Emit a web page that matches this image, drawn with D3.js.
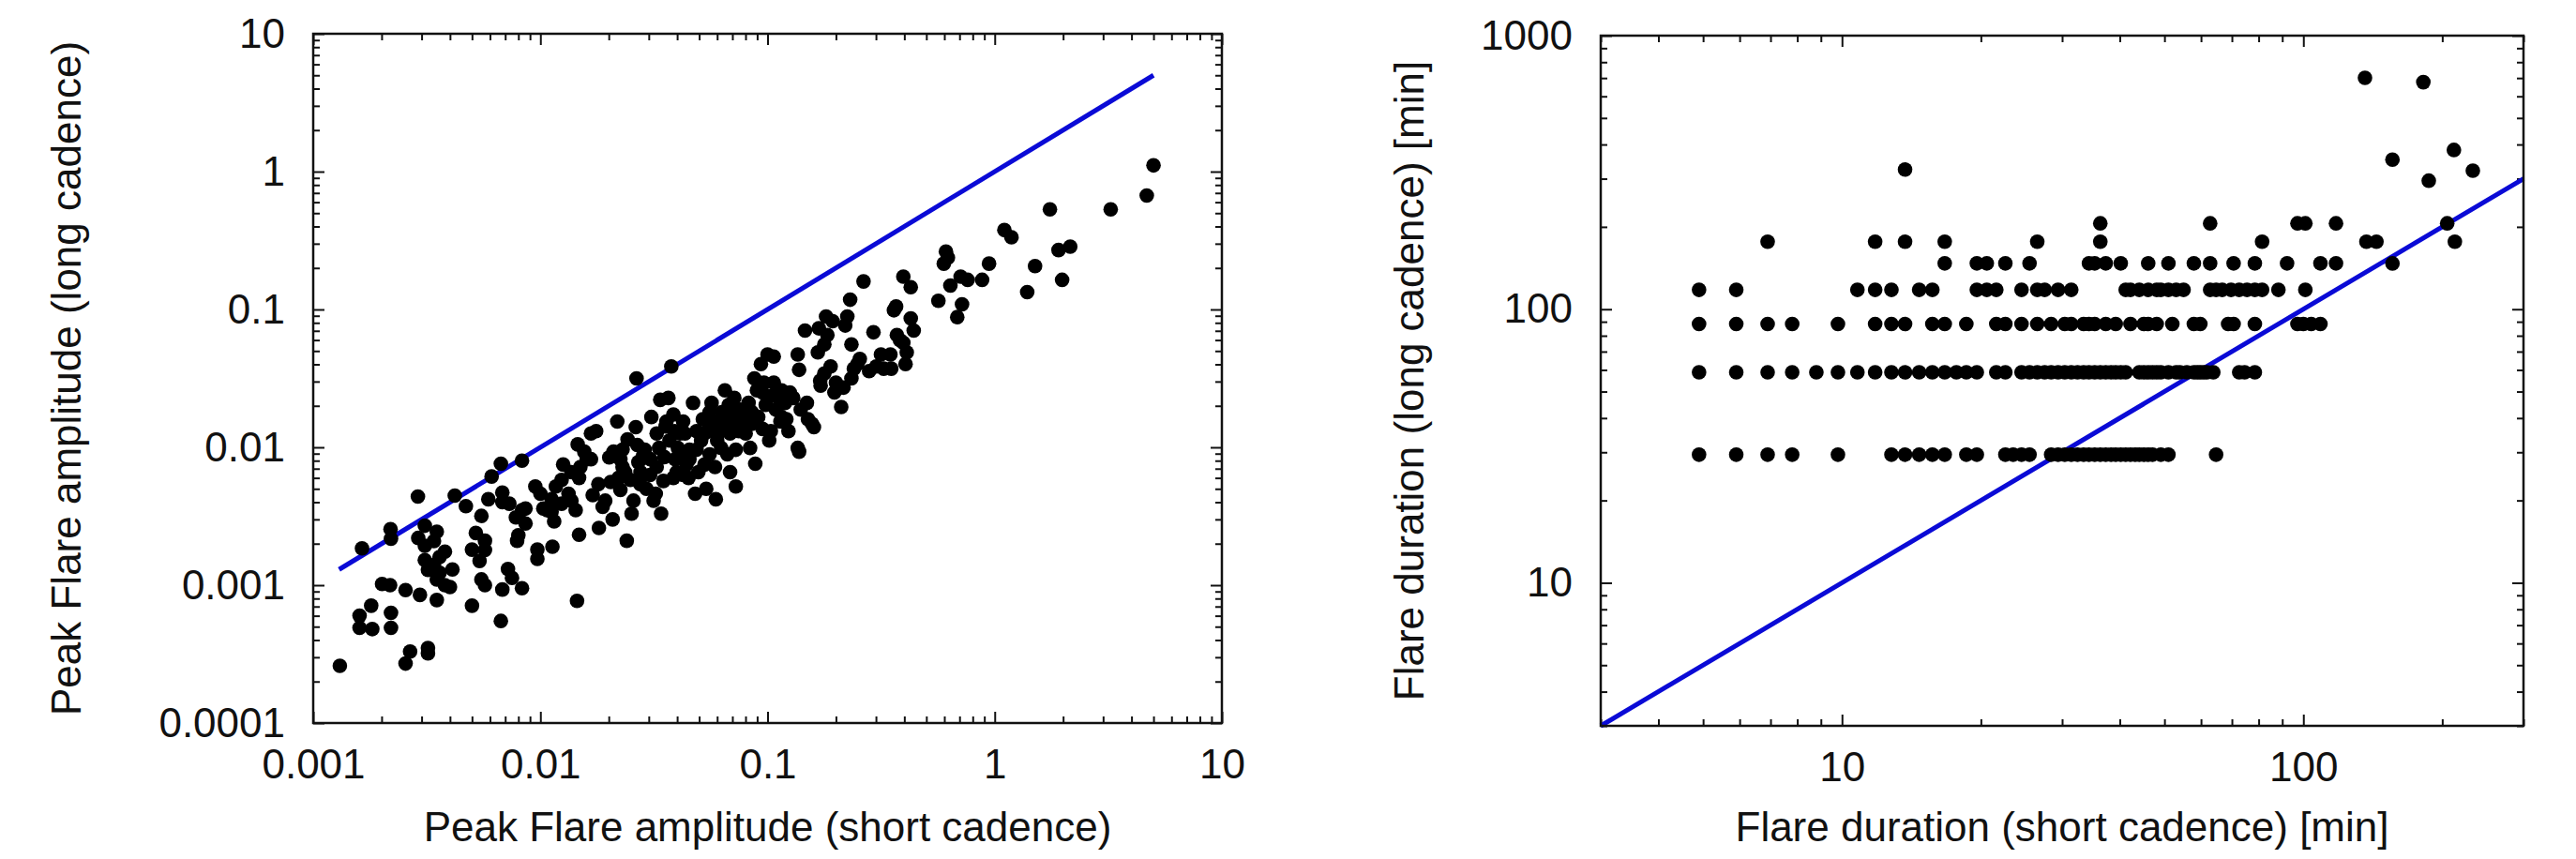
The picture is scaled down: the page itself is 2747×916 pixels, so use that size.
<!DOCTYPE html>
<html>
<head>
<meta charset="utf-8">
<script src="https://cdnjs.cloudflare.com/ajax/libs/d3/7.8.5/d3.min.js"></script>
<style>
  body { margin: 0; background: #fff; }
  text { font-family: "Liberation Sans", Arial, sans-serif; fill: #111; }
</style>
</head>
<body>
<svg id="chart"></svg>
<script>
//! DATA — left panel: peak amplitude [short cadence, long cadence]
const ampPoints = [
  [0.00131,0.00026],[0.00164,0.00185],[0.0016,0.0006],[0.0016,0.00049],[0.00182,0.00048],[0.0018,0.00071],
  [0.00201,0.00102],[0.00218,0.001],[0.00219,0.00255],[0.0022,0.00217],[0.0022,0.00063],[0.0022,0.00049],
  [0.00255,0.00092],[0.00255,0.00027],[0.00267,0.00033],[0.00289,0.00439],[0.00295,0.00085],[0.0031,0.0027],
  [0.0031,0.00193],[0.0031,0.00152],[0.0032,0.00129],[0.0032,0.00035],[0.0032,0.00032],[0.0034,0.00209],
  [0.0034,0.0014],[0.0035,0.00078],[0.0035,0.00244],[0.0036,0.00123],[0.0038,0.00175],[0.0038,0.001],
  [0.004,0.00097],[0.0042,0.00446],[0.0047,0.00374],[0.005,0.00071],[0.005,0.00181],[0.0052,0.00239],
  [0.0055,0.00318],[0.0054,0.0015],[0.0055,0.0011],[0.0057,0.0021],[0.0057,0.001],[0.0057,0.0018],
  [0.0061,0.00614],[0.0067,0.00055],[0.0067,0.0076],[0.0068,0.0047],[0.0068,0.004],[0.0068,0.00093],
  [0.0072,0.00131],[0.0075,0.00113],[0.0078,0.0031],[0.0079,0.0021],[0.008,0.0023],[0.0083,0.008],
  [0.0083,0.00095],[0.0083,0.0035],[0.0086,0.0036],[0.0095,0.0052],[0.0097,0.00181],[0.0097,0.00155],
  [0.01,0.0046],[0.0103,0.0036],[0.0107,0.0035],[0.0112,0.0034],[0.0113,0.0019],[0.0115,0.0029],
  [0.0117,0.0052],[0.0124,0.0039],[0.0126,0.0075],[0.0133,0.0046],[0.0137,0.0041],[0.0143,0.0035],
  [0.0145,0.00077],[0.0146,0.0105],[0.0148,0.006],[0.0148,0.00232],[0.015,0.0072],[0.0156,0.0093],
  [0.016,0.0082],[0.0167,0.0126],[0.017,0.0045],[0.0176,0.0131],[0.0181,0.0026],[0.0188,0.0037],
  [0.0193,0.0041],[0.0204,0.0056],[0.0208,0.003],[0.021,0.0093],[0.0218,0.0154],[0.0221,0.006],
  [0.0225,0.0082],[0.0225,0.0049],[0.023,0.0096],[0.0236,0.0066],[0.024,0.0021],[0.0242,0.0114],
  [0.0249,0.0058],[0.0252,0.0033],[0.0257,0.0041],[0.0263,0.014],[0.0265,0.0316],[0.0267,0.0104],
  [0.027,0.0078],[0.0275,0.0054],[0.0283,0.0087],[0.0288,0.0096],[0.0293,0.005],[0.0304,0.0063],
  [0.0308,0.0166],[0.0315,0.0041],[0.0322,0.0046],[0.0325,0.0126],[0.0333,0.0099],[0.0337,0.0221],
  [0.034,0.0033],[0.0348,0.0057],[0.0351,0.0085],[0.0359,0.0154],[0.0366,0.0228],[0.037,0.0112],
  [0.0377,0.0386],[0.0385,0.0173],[0.0385,0.006],[0.0392,0.0082],[0.0398,0.0066],[0.0403,0.0099],
  [0.0411,0.0126],[0.0418,0.0089],[0.0425,0.0063],[0.0433,0.0126],[0.044,0.0075],[0.0449,0.006],
  [0.0453,0.0096],[0.047,0.021],[0.048,0.0046],[0.0487,0.0131],[0.0496,0.0066],[0.051,0.0112],
  [0.0519,0.016],[0.0528,0.0075],[0.0537,0.005],[0.0544,0.0154],[0.0556,0.018],[0.0567,0.021],
  [0.0576,0.0131],[0.0587,0.0072],[0.0592,0.0042],[0.06,0.0112],[0.0612,0.0154],[0.0625,0.0099],
  [0.063,0.018],[0.0649,0.0259],[0.0657,0.0136],[0.0665,0.0089],[0.0675,0.0203],[0.0684,0.0066],
  [0.0703,0.0166],[0.0714,0.0228],[0.0725,0.0052],[0.0735,0.0154],[0.0747,0.0131],[0.0758,0.0188],
  [0.0772,0.0148],[0.0785,0.0173],[0.0813,0.0154],[0.0825,0.021],[0.0838,0.0099],[0.0852,0.0148],
  [0.0875,0.0316],[0.0883,0.0076],[0.0898,0.0259],[0.091,0.0166],[0.0935,0.0402],[0.095,0.0136],
  [0.0964,0.0295],[0.0982,0.0203],[0.1,0.0472],[0.1017,0.0112],[0.1034,0.0131],[0.1048,0.0237],
  [0.1065,0.0455],[0.1088,0.0188],[0.1123,0.0228],[0.114,0.0154],[0.1153,0.0259],[0.1193,0.021],
  [0.121,0.016],[0.1236,0.0131],[0.1253,0.025],[0.1297,0.0228],[0.1358,0.0472],[0.1358,0.0099],
  [0.1377,0.0093],[0.1377,0.0365],[0.14,0.0188],[0.1462,0.0703],[0.149,0.021],[0.1506,0.016],
  [0.157,0.0148],[0.16,0.014],[0.1665,0.0488],[0.1682,0.073],[0.1705,0.0304],[0.1713,0.028],
  [0.1778,0.0557],[0.1778,0.0343],[0.181,0.0889],[0.1834,0.0652],[0.1895,0.0386],[0.1934,0.0822],
  [0.197,0.025],[0.2,0.0295],[0.207,0.0271],[0.211,0.0196],[0.216,0.0271],[0.2198,0.0765],
  [0.2245,0.0889],[0.231,0.1177],[0.234,0.0316],[0.234,0.0557],[0.24,0.0372],[0.2486,0.0402],
  [0.2548,0.0437],[0.2645,0.1597],[0.28,0.0357],[0.2926,0.0683],[0.301,0.0386],[0.3156,0.0472],
  [0.3245,0.0372],[0.3474,0.0472],[0.3503,0.0372],[0.36,0.0987],[0.368,0.105],[0.371,0.0652],
  [0.383,0.0599],[0.396,0.1729],[0.396,0.0573],[0.405,0.0402],[0.41,0.0488],[0.427,0.1452],
  [0.427,0.0862],[0.44,0.0703],[0.565,0.1156],[0.597,0.215],[0.61,0.2628],[0.622,0.2375],
  [0.638,0.149],[0.684,0.088],[0.708,0.1729],[0.718,0.109],[0.76,0.164],[0.88,0.164],
  [0.944,0.215],[1.103,0.3767],[1.185,0.334],[1.39,0.1335],[1.505,0.2063],[1.75,0.532],
  [1.91,0.2698],[1.98,0.164],[2.15,0.2855],[3.24,0.532],[4.67,0.67],[5.0,1.11],
  [0.0201,0.00845],[0.023,0.0072],[0.0276,0.0066],[0.0305,0.0082],[0.0325,0.0072],[0.0356,0.0142],
  [0.039,0.0131],[0.0425,0.0154],[0.0453,0.0082],[0.0487,0.0096],[0.0528,0.0126],[0.0556,0.0089],
  [0.0607,0.0126],[0.0657,0.0166],[0.0684,0.0126],[0.0725,0.0096],[0.0801,0.0126],[0.0852,0.018],
  [0.095,0.025],[0.1065,0.0295],[0.1153,0.0166],[0.0167,0.0082],[0.018,0.0054],[0.0137,0.0066],
  [0.0124,0.0058],[0.0112,0.0042],[0.0086,0.0028],[0.0073,0.0039],[0.0059,0.0042],[0.0041,0.0013],
  [0.0036,0.0016],[0.0029,0.0022],[0.0035,0.0011]
];
const ampLine = [0.0013, 5];          // y = x reference line, from..to
const ampXTicks = [0.001, 0.01, 0.1, 1, 10];
const ampXLabels = ['0.001', '0.01', '0.1', '1', '10'];
const ampYTicks = [0.0001, 0.001, 0.01, 0.1, 1, 10];
const ampYLabels = ['0.0001', '0.001', '0.01', '0.1', '1', '10'];

//! DATA — right panel: flare duration [min]; long cadence values come in steps
const durLevels = [29.4, 58.8, 88.3, 117.7, 147.1, 176.6, 206.0];
const durRows = [
  [4.9,5.9,6.9,7.8,9.8,12.8,13.7,14.7,15.7,16.7,18.6,19.6,22.6,23.5,24.5,25.5,28.4,29.4,30.4,31.4,32.4,
   33.4,34.3,35.3,36.3,37.3,38.3,39.2,40.2,41.2,42.2,43.2,44.1,45.1,46.1,47.1,49.1,51.0,64.7],
  [4.9,5.9,6.9,7.8,8.8,9.8,10.8,11.8,12.8,13.7,14.7,15.7,16.7,17.7,18.6,19.6,21.6,22.6,24.5,25.5,26.5,
   27.5,28.4,29.4,30.4,31.4,32.4,33.4,34.3,35.3,36.3,37.3,38.3,39.2,40.2,41.2,44.1,45.1,46.1,47.1,48.1,
   49.1,51.0,53.0,54.0,55.9,57.9,58.9,59.8,60.8,61.8,63.8,72.6,74.6,78.5],
  [4.9,5.9,6.9,7.8,9.8,11.8,12.8,13.7,15.7,16.7,18.6,21.6,22.6,24.5,26.5,28.4,30.4,31.4,33.4,34.3,35.3,
   37.3,39.2,42.2,45.1,46.1,48.1,52.0,57.9,59.8,68.7,70.6,78.5,97.1,100.0,104.0,108.9],
  [4.9,5.9,10.8,11.8,12.8,14.7,15.7,19.6,20.6,21.6,24.5,26.5,27.5,29.4,31.4,41.2,42.2,44.1,46.1,48.1,
   49.1,51.0,53.0,55.0,62.8,64.7,66.7,69.7,72.6,75.5,78.5,81.4,88.3,101.0],
  [16.7,19.6,20.6,22.6,25.5,34.3,35.3,37.3,40.2,46.1,51.0,57.9,62.8,70.6,78.5,92.2,108.9,117.7],
  [6.9,11.8,13.7,16.7,26.5,36.3,81.4,137,144,213],
  [36.3,62.8,97.1,101.0,117.7,205]
];
const durOutliers = [[13.7,324],[136,701],[182,676],[156,352],[212,382],[187,295],[233,321],[156,147]];
const durLine = [3, 300];
const durXTicks = [10, 100];
const durXLabels = ['10', '100'];
const durYTicks = [10, 100, 1000];
const durYLabels = ['10', '100', '1000'];

//! CONSTS
const W = 2747, H = 916;
const fontSize = 44;
const majorLen = 12, minorLen = 7;
const dotR = 7.8;
const lineBlue = '#0a0ad6';

const svg = d3.select('#chart').attr('width', W).attr('height', H);
svg.append('rect').attr('width', W).attr('height', H).attr('fill', '#fff');

//! PANEL
function drawPanel(p) {
  const w = p.x1 - p.x0, h = p.y1 - p.y0;
  const x = d3.scaleLog().domain(p.xDomain).range([0, w]);
  const y = d3.scaleLog().domain(p.yDomain).range([h, 0]);
  const g = svg.append('g').attr('transform', `translate(${p.x0},${p.y0})`);

  const isMajor = (majors) => (v) => majors.some(m => Math.abs(v - m) / m < 1e-6);
  const xMinor = x.ticks().filter(v => !isMajor(p.xTicks)(v));
  const yMinor = y.ticks().filter(v => !isMajor(p.yTicks)(v));

  const axes = [
    [d3.axisBottom, x, `translate(0,${h})`, p.xTicks, p.xLabels],
    [d3.axisTop, x, 'translate(0,0)', p.xTicks, null],
    [d3.axisLeft, y, 'translate(0,0)', p.yTicks, p.yLabels],
    [d3.axisRight, y, `translate(${w},0)`, p.yTicks, null]
  ];
  axes.forEach(([mk, sc, tr, majors, labels]) => {
    const minors = sc === x ? xMinor : yMinor;
    g.append('g').attr('transform', tr).attr('color', '#111')
      .call(mk(sc).tickValues(minors).tickFormat('').tickSizeInner(-minorLen).tickSizeOuter(0))
      .call(a => a.select('.domain').remove());
    const ga = g.append('g').attr('transform', tr).attr('color', '#111')
      .call(mk(sc).tickValues(majors)
        .tickFormat((d, i) => labels ? labels[i] : '')
        .tickSizeInner(-majorLen).tickSizeOuter(0)
        .tickPadding(sc === x ? 28 : 30))
      .call(a => a.select('.domain').remove());
    ga.selectAll('text').attr('font-size', fontSize)
      .attr('font-family', '"Liberation Sans", Arial, sans-serif').attr('fill', '#111');
  });
  g.selectAll('.tick line').attr('stroke-width', 2);

  // reference line y = x
  g.append('line')
    .attr('x1', x(p.line[0])).attr('y1', y(p.line[0]))
    .attr('x2', x(p.line[1])).attr('y2', y(p.line[1]))
    .attr('stroke', lineBlue).attr('stroke-width', 5);

  // dots
  g.append('g').selectAll('circle')
    .data(p.points)
    .enter()
    .append('circle')
    .attr('cx', d => x(d[0]))
    .attr('cy', d => y(d[1]))
    .attr('r', dotR)
    .attr('fill', '#000');

  // frame
  g.append('rect').attr('width', w).attr('height', h)
    .attr('fill', 'none').attr('stroke', '#111').attr('stroke-width', 2.5);

  // titles
  svg.append('text')
    .attr('x', (p.x0 + p.x1) / 2).attr('y', 897)
    .attr('text-anchor', 'middle').attr('font-size', fontSize)
    .text(p.xTitle);
  svg.append('text')
    .attr('transform', `translate(${p.yTitleX},${(p.y0 + p.y1) / 2}) rotate(-90)`)
    .attr('text-anchor', 'middle').attr('font-size', fontSize)
    .text(p.yTitle);
}

drawPanel({
  x0: 334, x1: 1303, y0: 36, y1: 771,
  xDomain: [0.001, 10], yDomain: [0.0001, 10],
  xTicks: ampXTicks, xLabels: ampXLabels, yTicks: ampYTicks, yLabels: ampYLabels,
  xTitle: 'Peak Flare amplitude (short cadence)',
  yTitle: 'Peak Flare amplitude (long cadence)',
  yTitleX: 86,
  points: ampPoints, line: ampLine
});

const durPoints = durRows
  .flatMap((row, i) => row.map(v => [v, durLevels[i]]))
  .concat(durOutliers);

drawPanel({
  x0: 1707, x1: 2691, y0: 38, y1: 774,
  xDomain: [3, 300], yDomain: [3, 1000],
  xTicks: durXTicks, xLabels: durXLabels, yTicks: durYTicks, yLabels: durYLabels,
  xTitle: 'Flare duration (short cadence) [min]',
  yTitle: 'Flare duration (long cadence) [min]',
  yTitleX: 1518,
  points: durPoints, line: durLine
});
</script>
</body>
</html>
